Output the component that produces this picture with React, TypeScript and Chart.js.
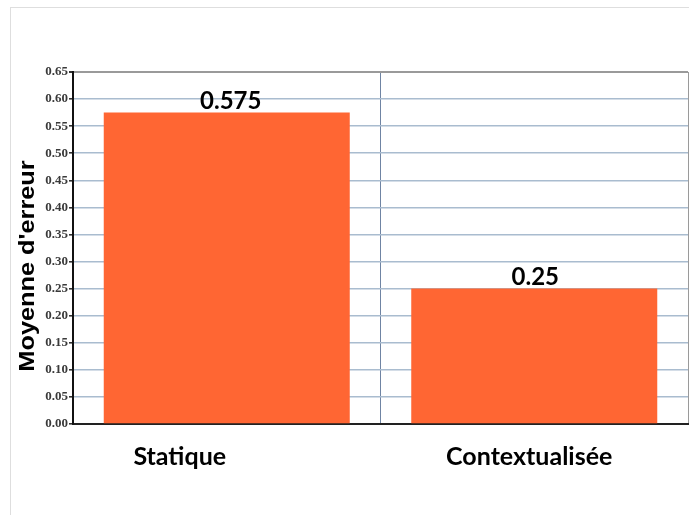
import React, { useEffect, useRef } from "react";
import { Chart, registerables } from "chart.js";

Chart.register(...registerables);

const categories = ["Statique", "Contextualisée"];
const errorMeans = [0.575, 0.25];
const valueLabels = ["0.575", "0.25"];
const yTitle = "Moyenne d'erreur";
const yMin = 0;
const yMax = 0.65;
const yStep = 0.05;
// horizontal shift of each category / value label relative to its bar centre (layout)
const labelShift = [-47, -5];
const valueShift = [4, 1];

const overlayPlugin = {
  id: "overlay",
  afterDatasetsDraw(chart: any) {
    const { ctx, chartArea } = chart;
    const meta = chart.getDatasetMeta(0);
    ctx.save();
    // value labels
    ctx.font = "bold 24px Lato";
    ctx.fillStyle = "#000";
    ctx.textAlign = "center";
    ctx.textBaseline = "alphabetic";
    meta.data.forEach((bar: any, i: number) => {
      ctx.fillText(valueLabels[i], bar.x + valueShift[i], bar.y - 4);
    });
    // category labels
    const xs = chart.scales.x;
    ctx.font = "bold 25px Lato";
    categories.forEach((c, i) => {
      ctx.fillText(c, xs.getPixelForValue(i) + labelShift[i], chartArea.bottom + 41);
    });
    // y title
    ctx.translate(28, (chartArea.top + chartArea.bottom) / 2 + 18);
    ctx.rotate(-Math.PI / 2);
    ctx.scale(1.15, 1);
    ctx.font = "bold 22px 'Liberation Sans'";
    ctx.textBaseline = "middle";
    ctx.fillText(yTitle, 0, 0);
    ctx.restore();
  },
};

export default function App() {
  const canvasRef = useRef<HTMLCanvasElement>(null);

  useEffect(() => {
    const chart = new Chart(canvasRef.current!, {
      type: "bar",
      data: {
        labels: categories,
        datasets: [
          {
            data: errorMeans,
            backgroundColor: "#ff6633",
            borderWidth: 0,
            barPercentage: 0.8,
            categoryPercentage: 1,
          },
        ],
      },
      options: {
        animation: false,
        responsive: false,
        devicePixelRatio: 1,
        layout: { padding: { top: 72, right: 1, left: 0, bottom: 0 } },
        plugins: {
          legend: { display: false },
          tooltip: { enabled: false },
        },
        scales: {
          x: {
            offset: true,
            ticks: { display: false },
            grid: {
              offset: true,
              drawTicks: false,
              lineWidth: 1,
              color: (ctx: any) => (ctx.index === 1 ? "#6f84a3" : "#9a9a9a"),
            },
            border: { color: "#222", width: 2 },
            afterFit: (s: any) => {
              s.height = 91;
            },
          },
          y: {
            min: yMin,
            max: yMax,
            ticks: {
              stepSize: yStep,
              padding: 1,
              color: "#3a3a3a",
              font: { family: "'Liberation Serif'", size: 13, weight: "bold" },
              callback: (v: any) => Number(v).toFixed(2),
            },
            grid: {
              tickLength: 4,
              tickColor: "#333",
              lineWidth: (ctx: any) =>
                ctx.tick && Math.abs(ctx.tick.value - yMax) < 1e-6 ? 2 : 1.6,
              color: (ctx: any) =>
                ctx.tick && Math.abs(ctx.tick.value - yMax) < 1e-6 ? "#9a9a9a" : "#a9bccf",
            },
            border: { color: "#111", width: 2 },
            afterFit: (s: any) => {
              s.width = 73;
            },
          },
        },
      },
      plugins: [overlayPlugin],
    });
    return () => chart.destroy();
  }, []);

  return (
    <div
      style={{
        position: "fixed",
        left: 0,
        top: 0,
        width: 689,
        height: 515,
        background: "#fff",
        overflow: "hidden",
      }}
    >
      <div
        style={{
          position: "absolute",
          left: 10,
          top: 7,
          width: 700,
          height: 600,
          border: "1px solid #dedede",
          boxSizing: "border-box",
        }}
      />
      <canvas
        ref={canvasRef}
        width={689}
        height={515}
        style={{ position: "absolute", left: 0, top: 0 }}
      />
    </div>
  );
}
